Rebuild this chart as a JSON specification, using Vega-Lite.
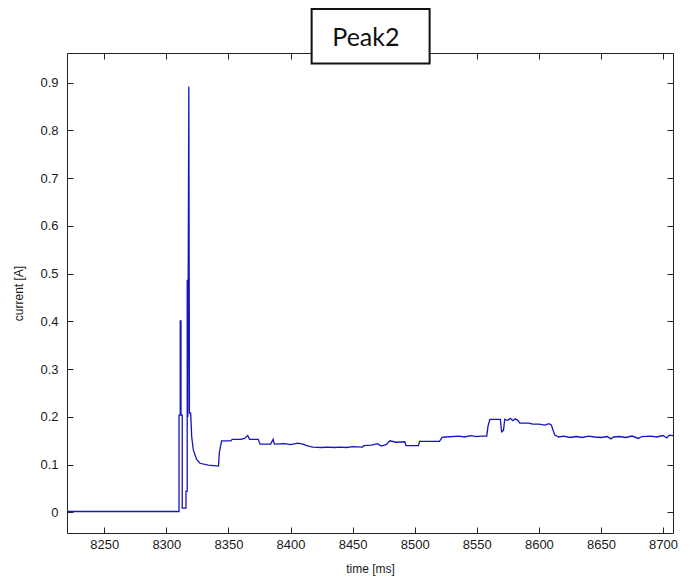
{
  "$schema": "https://vega.github.io/schema/vega-lite/v6.json",
  "width": 606,
  "height": 480,
  "autosize": "none",
  "padding": {"left": 67, "top": 53, "right": 21, "bottom": 51},
  "background": "white",
  "config": {
    "view": {"stroke": "#222", "strokeWidth": 1},
    "axis": {
      "domain": false,
      "grid": false,
      "tickColor": "#222",
      "tickSize": -6,
      "tickWidth": 1,
      "labelFont": "Liberation Sans",
      "labelFontSize": 13,
      "labelColor": "#1a1a1a",
      "titleFont": "Liberation Sans",
      "titleFontSize": 12,
      "titleFontWeight": "normal",
      "titleColor": "#1a1a1a"
    }
  },
  "datasets": {
    "trace": [
      {"t": 8220, "v": 0.002},
      {"t": 8310.2, "v": 0.002},
      {"t": 8310.2, "v": 0.204},
      {"t": 8311.2, "v": 0.204},
      {"t": 8311.2, "v": 0.401},
      {"t": 8311.8, "v": 0.401},
      {"t": 8311.8, "v": 0.204},
      {"t": 8312.8, "v": 0.204},
      {"t": 8312.8, "v": 0.009},
      {"t": 8315.8, "v": 0.009},
      {"t": 8315.8, "v": 0.044},
      {"t": 8316.8, "v": 0.044},
      {"t": 8316.8, "v": 0.487},
      {"t": 8317.3, "v": 0.2},
      {"t": 8317.6, "v": 0.487},
      {"t": 8318.1, "v": 0.892},
      {"t": 8318.6, "v": 0.208},
      {"t": 8319.6, "v": 0.208},
      {"t": 8320.4, "v": 0.159},
      {"t": 8321.7, "v": 0.131},
      {"t": 8324.4, "v": 0.111},
      {"t": 8327.1, "v": 0.103},
      {"t": 8333.8, "v": 0.099},
      {"t": 8342, "v": 0.097},
      {"t": 8342.6, "v": 0.124},
      {"t": 8344.5, "v": 0.15},
      {"t": 8352, "v": 0.15},
      {"t": 8353, "v": 0.153},
      {"t": 8360, "v": 0.153},
      {"t": 8363, "v": 0.155},
      {"t": 8365.5, "v": 0.161},
      {"t": 8367, "v": 0.153},
      {"t": 8374, "v": 0.153},
      {"t": 8375.4, "v": 0.143},
      {"t": 8384, "v": 0.143},
      {"t": 8386, "v": 0.153},
      {"t": 8387, "v": 0.143},
      {"t": 8395, "v": 0.144},
      {"t": 8400, "v": 0.142},
      {"t": 8406, "v": 0.145},
      {"t": 8410, "v": 0.143},
      {"t": 8413, "v": 0.14},
      {"t": 8418, "v": 0.137},
      {"t": 8425, "v": 0.136},
      {"t": 8430, "v": 0.137},
      {"t": 8435, "v": 0.136},
      {"t": 8440, "v": 0.137},
      {"t": 8445, "v": 0.136},
      {"t": 8450, "v": 0.138},
      {"t": 8458, "v": 0.137},
      {"t": 8459, "v": 0.14},
      {"t": 8465, "v": 0.141},
      {"t": 8470, "v": 0.144},
      {"t": 8473, "v": 0.139},
      {"t": 8477, "v": 0.142},
      {"t": 8480, "v": 0.15},
      {"t": 8485, "v": 0.147},
      {"t": 8492, "v": 0.148},
      {"t": 8493, "v": 0.14},
      {"t": 8503, "v": 0.14},
      {"t": 8504, "v": 0.149},
      {"t": 8520, "v": 0.149},
      {"t": 8522, "v": 0.157},
      {"t": 8525, "v": 0.158},
      {"t": 8536, "v": 0.16},
      {"t": 8540, "v": 0.158},
      {"t": 8545, "v": 0.161},
      {"t": 8550, "v": 0.159},
      {"t": 8553, "v": 0.16},
      {"t": 8558, "v": 0.16},
      {"t": 8559, "v": 0.18},
      {"t": 8560.5, "v": 0.195},
      {"t": 8569, "v": 0.195},
      {"t": 8570, "v": 0.169},
      {"t": 8571.5, "v": 0.172},
      {"t": 8572.5, "v": 0.195},
      {"t": 8575, "v": 0.193},
      {"t": 8577, "v": 0.197},
      {"t": 8579, "v": 0.192},
      {"t": 8581, "v": 0.196},
      {"t": 8583, "v": 0.193},
      {"t": 8584.7, "v": 0.187},
      {"t": 8592, "v": 0.187},
      {"t": 8595, "v": 0.185},
      {"t": 8600, "v": 0.185},
      {"t": 8605, "v": 0.183},
      {"t": 8608, "v": 0.186},
      {"t": 8610, "v": 0.183},
      {"t": 8612.8, "v": 0.162},
      {"t": 8616, "v": 0.158},
      {"t": 8620, "v": 0.16},
      {"t": 8625, "v": 0.157},
      {"t": 8630, "v": 0.159},
      {"t": 8635, "v": 0.157},
      {"t": 8640, "v": 0.16},
      {"t": 8645, "v": 0.158},
      {"t": 8650, "v": 0.157},
      {"t": 8655, "v": 0.159},
      {"t": 8658, "v": 0.154},
      {"t": 8660, "v": 0.158},
      {"t": 8665, "v": 0.159},
      {"t": 8670, "v": 0.157},
      {"t": 8675, "v": 0.16},
      {"t": 8680, "v": 0.155},
      {"t": 8683, "v": 0.159},
      {"t": 8690, "v": 0.16},
      {"t": 8695, "v": 0.158},
      {"t": 8700, "v": 0.161},
      {"t": 8703, "v": 0.156},
      {"t": 8705, "v": 0.162},
      {"t": 8708, "v": 0.161}
    ],
    "annotation": [{"label": "Peak2"}]
  },
  "layer": [
    {
      "data": {"name": "trace"},
      "mark": {"type": "line", "color": "#1414c0", "strokeWidth": 1.3, "clip": true},
      "encoding": {
        "x": {
          "field": "t", "type": "quantitative",
          "scale": {"domain": [8220, 8708], "nice": false, "zero": false},
          "axis": {"orient": "bottom", "title": "time [ms]", "values": [8250, 8300, 8350, 8400, 8450, 8500, 8550, 8600, 8650, 8700], "format": "d", "labelPadding": 11, "titlePadding": 12}
        },
        "y": {
          "field": "v", "type": "quantitative",
          "scale": {"domain": [-0.043, 0.962], "nice": false, "zero": false},
          "axis": {"orient": "left", "title": "current [A]", "values": [0, 0.1, 0.2, 0.3, 0.4, 0.5, 0.6, 0.7, 0.8, 0.9], "format": ".1~f", "labelPadding": 15, "titlePadding": 14}
        }
      }
    },
    {
      "data": {"name": "annotation"},
      "mark": {"type": "rect", "fill": "white", "stroke": "#111", "strokeWidth": 2},
      "encoding": {
        "x": {"datum": 8417, "type": "quantitative", "axis": {"orient": "top", "title": null, "labels": false, "values": [8250, 8300, 8350, 8400, 8450, 8500, 8550, 8600, 8650, 8700]}},
        "x2": {"datum": 8512},
        "y": {"datum": 0.94, "type": "quantitative", "axis": {"orient": "right", "title": null, "labels": false, "values": [0, 0.1, 0.2, 0.3, 0.4, 0.5, 0.6, 0.7, 0.8, 0.9]}},
        "y2": {"datum": 1.054}
      }
    },
    {
      "data": {"name": "annotation"},
      "mark": {"type": "text", "font": "Lato", "fontSize": 25, "color": "#111", "baseline": "alphabetic", "align": "center"},
      "encoding": {
        "x": {"datum": 8460.7, "type": "quantitative", "axis": null},
        "y": {"datum": 0.977, "type": "quantitative", "axis": null},
        "text": {"field": "label"}
      }
    }
  ],
  "resolve": {"axis": {"x": "independent", "y": "independent"}}
}
